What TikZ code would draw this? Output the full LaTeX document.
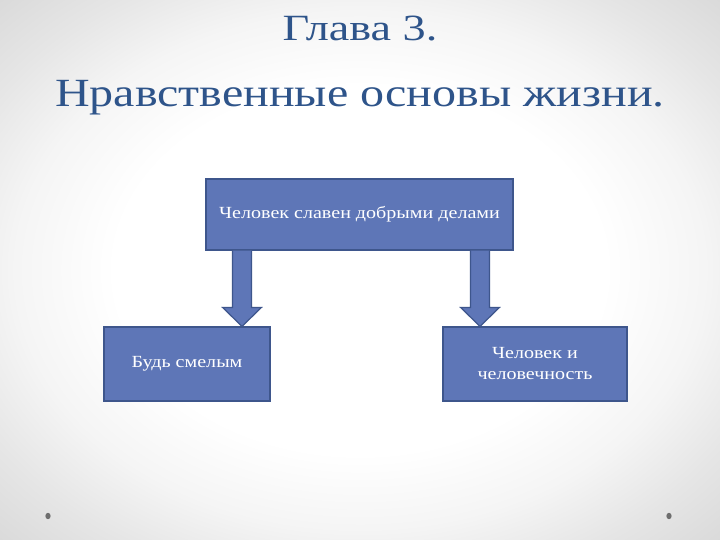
\documentclass[tikz,border=0pt]{standalone}
\usepackage{fontspec}
\setmainfont{Liberation Serif}
\usetikzlibrary{calc}
\definecolor{titleblue}{RGB}{46,84,138}
\definecolor{boxfill}{RGB}{94,118,183}
\definecolor{boxedge}{RGB}{62,86,140}
\definecolor{dotgray}{RGB}{110,110,110}
\pgfdeclareradialshading{bgshade}{\pgfpoint{0bp}{0bp}}{color(0bp)=(white); color(17bp)=(white); color(24bp)=(black!4); color(30bp)=(black!10); color(36bp)=(black!15); color(50bp)=(black!17)}
\newcommand{\wide}[2]{\scalebox{#1}[1]{#2}}
\tikzset{
  box/.style={draw=boxedge, line width=1.2pt, fill=boxfill, text=white, align=center, inner sep=0pt, font=\fontsize{17}{21}\selectfont},
  blockarrow/.style={draw=boxedge, line width=1.2pt, fill=boxfill, line join=miter},
  title/.style={text=titleblue, inner sep=0pt}
}
\begin{document}
\begin{tikzpicture}[x=1pt,y=-1pt]
\useasboundingbox (0,0) rectangle (720,540);
\begin{scope}
\clip (0,0) rectangle (720,540);
\shade[shading=bgshade, shift={(360,270)}, xscale=1.333] (-270,-270) rectangle (270,270);
\end{scope}
\node[title, font=\fontsize{37}{40}\selectfont] (t1) at (360,29) {\wide{1.25}{Глава 3.}};
\node[title, font=\fontsize{40}{44}\selectfont] (t2) at (360,98) {\wide{1.2}{Нравственные основы жизни.}};
\node[box, minimum width=307pt, minimum height=71pt] (top) at (359.5,214.5) {\wide{1.18}{Человек славен добрыми делами}};
\node[box, minimum width=166pt, minimum height=74pt] (left) at (187,364) {\wide{1.18}{Будь смелым}};
\node[box, minimum width=184pt, minimum height=74pt] (right) at (535,364) {\wide{1.18}{Человек и}\\\wide{1.18}{человечность}};
\coordinate (a1) at (242,0);
\coordinate (a2) at (480,0);
\foreach \a/\b in {a1/left, a2/right}{
  \draw[blockarrow] ($(\a |- top.south)+(-9.5,0)$) -- ($(\a |- \b.north)+(-9.5,-19)$) -- ($(\a |- \b.north)+(-19.5,-19)$) -- (\a |- \b.north) -- ($(\a |- \b.north)+(19.5,-19)$) -- ($(\a |- \b.north)+(9.5,-19)$) -- ($(\a |- top.south)+(9.5,0)$);
}
\fill[dotgray] (48,516) ellipse (2.6pt and 3.2pt);
\fill[dotgray] (669,516) ellipse (2.6pt and 3.2pt);
\end{tikzpicture}
\end{document}
